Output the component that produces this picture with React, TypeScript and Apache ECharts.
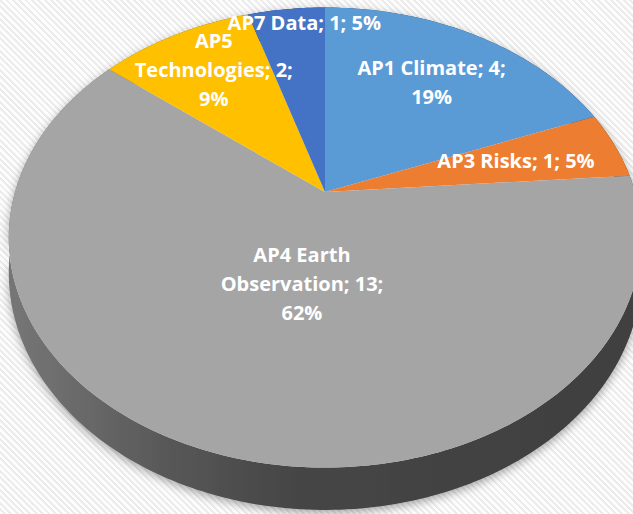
import React, { useEffect, useRef } from 'react';
import * as echarts from 'echarts';

// Work packages and the number of items in each
const names = ['AP1 Climate', 'AP3 Risks', 'AP4 Earth\nObservation', 'AP5\nTechnologies', 'AP7 Data'];
const values = [4, 1, 13, 2, 1];
const sliceColors = ['#5B9BD5', '#ED7D31', '#A5A5A5', '#FFC000', '#4472C4'];
// whether the percentage goes on its own line in the label
const pctOnOwnLine = [true, false, true, true, false];
// label placement: fraction of the radius and angular nudge (degrees)
const labelRadius = [0.67, 0.65, 0.39, 0.74, 0.91];
const labelAngleShift = [0.4, 0, -7, 1.3, 3.6];

// 3D projection of the tilted disc (perspective view)
const CX = 325;
const CY = 192;
const SX = 310;
const SY = 221;
const K = -0.198;
const DEPTH = 34;

function project(angleDeg: number, r: number, h: number): number[] {
  const a = (angleDeg * Math.PI) / 180;
  const u = r * Math.sin(a);
  const v = -r * Math.cos(a);
  const den = 1 + K * v;
  return [CX + (SX * u) / den, CY + (SY * v + DEPTH * h) / den];
}

// multiply a hex colour's channels by f (f < 1 darkens)
function shade(hex: string, f: number): string {
  const n = parseInt(hex.slice(1), 16);
  const ch = [(n >> 16) & 255, (n >> 8) & 255, n & 255].map((c) =>
    Math.max(0, Math.min(255, Math.round(c * f)))
  );
  return 'rgb(' + ch.join(',') + ')';
}

// percentages rounded so that they add up to 100 (largest remainder)
function percents(vals: number[]): number[] {
  const total = vals.reduce((s, v) => s + v, 0);
  const raw = vals.map((v) => (v / total) * 100);
  const out = raw.map((x) => Math.floor(x));
  let left = 100 - out.reduce((s, v) => s + v, 0);
  const order = raw
    .map((x, i) => ({ i, rem: x - Math.floor(x) }))
    .sort((a, b) => b.rem - a.rem);
  for (let j = 0; j < order.length && left > 0; j++, left--) out[order[j].i] += 1;
  return out;
}

export default function App() {
  const ref = useRef<HTMLDivElement>(null);

  useEffect(() => {
    document.body.style.margin = '0';
    if (!ref.current) return;
    const chart = echarts.init(ref.current, undefined, { renderer: 'svg' });

    const total = values.reduce((s, v) => s + v, 0);
    const starts: number[] = [];
    let acc = 0;
    values.forEach((v) => {
      starts.push((acc / total) * 360);
      acc += v;
    });
    const pcts = percents(values);

    // darker shades of the slice colour for the rim, lighter towards the left
    const sideFill = (color: string) => ({
      type: 'linear',
      x: 0,
      y: 0,
      x2: 633,
      y2: 0,
      global: true,
      colorStops: [
        { offset: 0, color: shade(color, 0.72) },
        { offset: 0.1, color: shade(color, 0.66) },
        { offset: 0.27, color: shade(color, 0.53) },
        { offset: 0.47, color: shade(color, 0.42) },
        { offset: 1, color: shade(color, 0.39) },
      ],
    });

    chart.setOption({
      animation: false,
      backgroundColor: 'transparent',
      series: [
        {
          type: 'custom',
          coordinateSystem: 'none',
          data: values.map((v, i) => ({ value: v, name: names[i] })),
          renderItem: (params: any, api: any) => {
            const i = params.dataIndex;
            const v = api.value(0);
            const a0 = starts[i];
            const a1 = a0 + (v / total) * 360;
            const n = Math.max(2, Math.ceil(a1 - a0));
            const top: number[][] = [];
            const bottom: number[][] = [];
            for (let j = 0; j <= n; j++) {
              const a = a0 + ((a1 - a0) * j) / n;
              top.push(project(a, 1, 0));
              bottom.push(project(a, 1, 1));
            }
            const face = [project(0, 0, 0), ...top];
            const side = [...top, ...bottom.slice().reverse()];
            const mid = (a0 + a1) / 2 + labelAngleShift[i];
            const lp = project(mid, labelRadius[i], 0);
            const text =
              names[i] + '; ' + v + ';' + (pctOnOwnLine[i] ? '\n' : ' ') + pcts[i] + '%';
            return {
              type: 'group',
              children: [
                {
                  type: 'polygon',
                  z2: 1,
                  shape: { points: side },
                  style: {
                    fill: sideFill(sliceColors[i]),
                    shadowColor: 'rgba(0,0,0,0.35)',
                    shadowBlur: 10,
                    shadowOffsetY: 3,
                  },
                },
                {
                  type: 'polygon',
                  z2: 2,
                  shape: { points: face },
                  style: { fill: sliceColors[i] },
                },
                {
                  type: 'text',
                  z2: 3,
                  style: {
                    text,
                    x: lp[0],
                    y: lp[1],
                    fill: '#ffffff',
                    fontFamily: 'Open Sans',
                    fontWeight: 'bold',
                    fontSize: 20,
                    lineHeight: 29,
                    align: 'center',
                    verticalAlign: 'middle',
                  },
                },
              ],
            };
          },
        },
      ],
    });

    return () => chart.dispose();
  }, []);

  return (
    <div
      ref={ref}
      style={{
        width: 633,
        height: 514,
        background:
          'repeating-linear-gradient(45deg, #fdfdfd 0px, #fdfdfd 2.5px, #ececec 2.5px, #ececec 4.5px)',
      }}
    />
  );
}
